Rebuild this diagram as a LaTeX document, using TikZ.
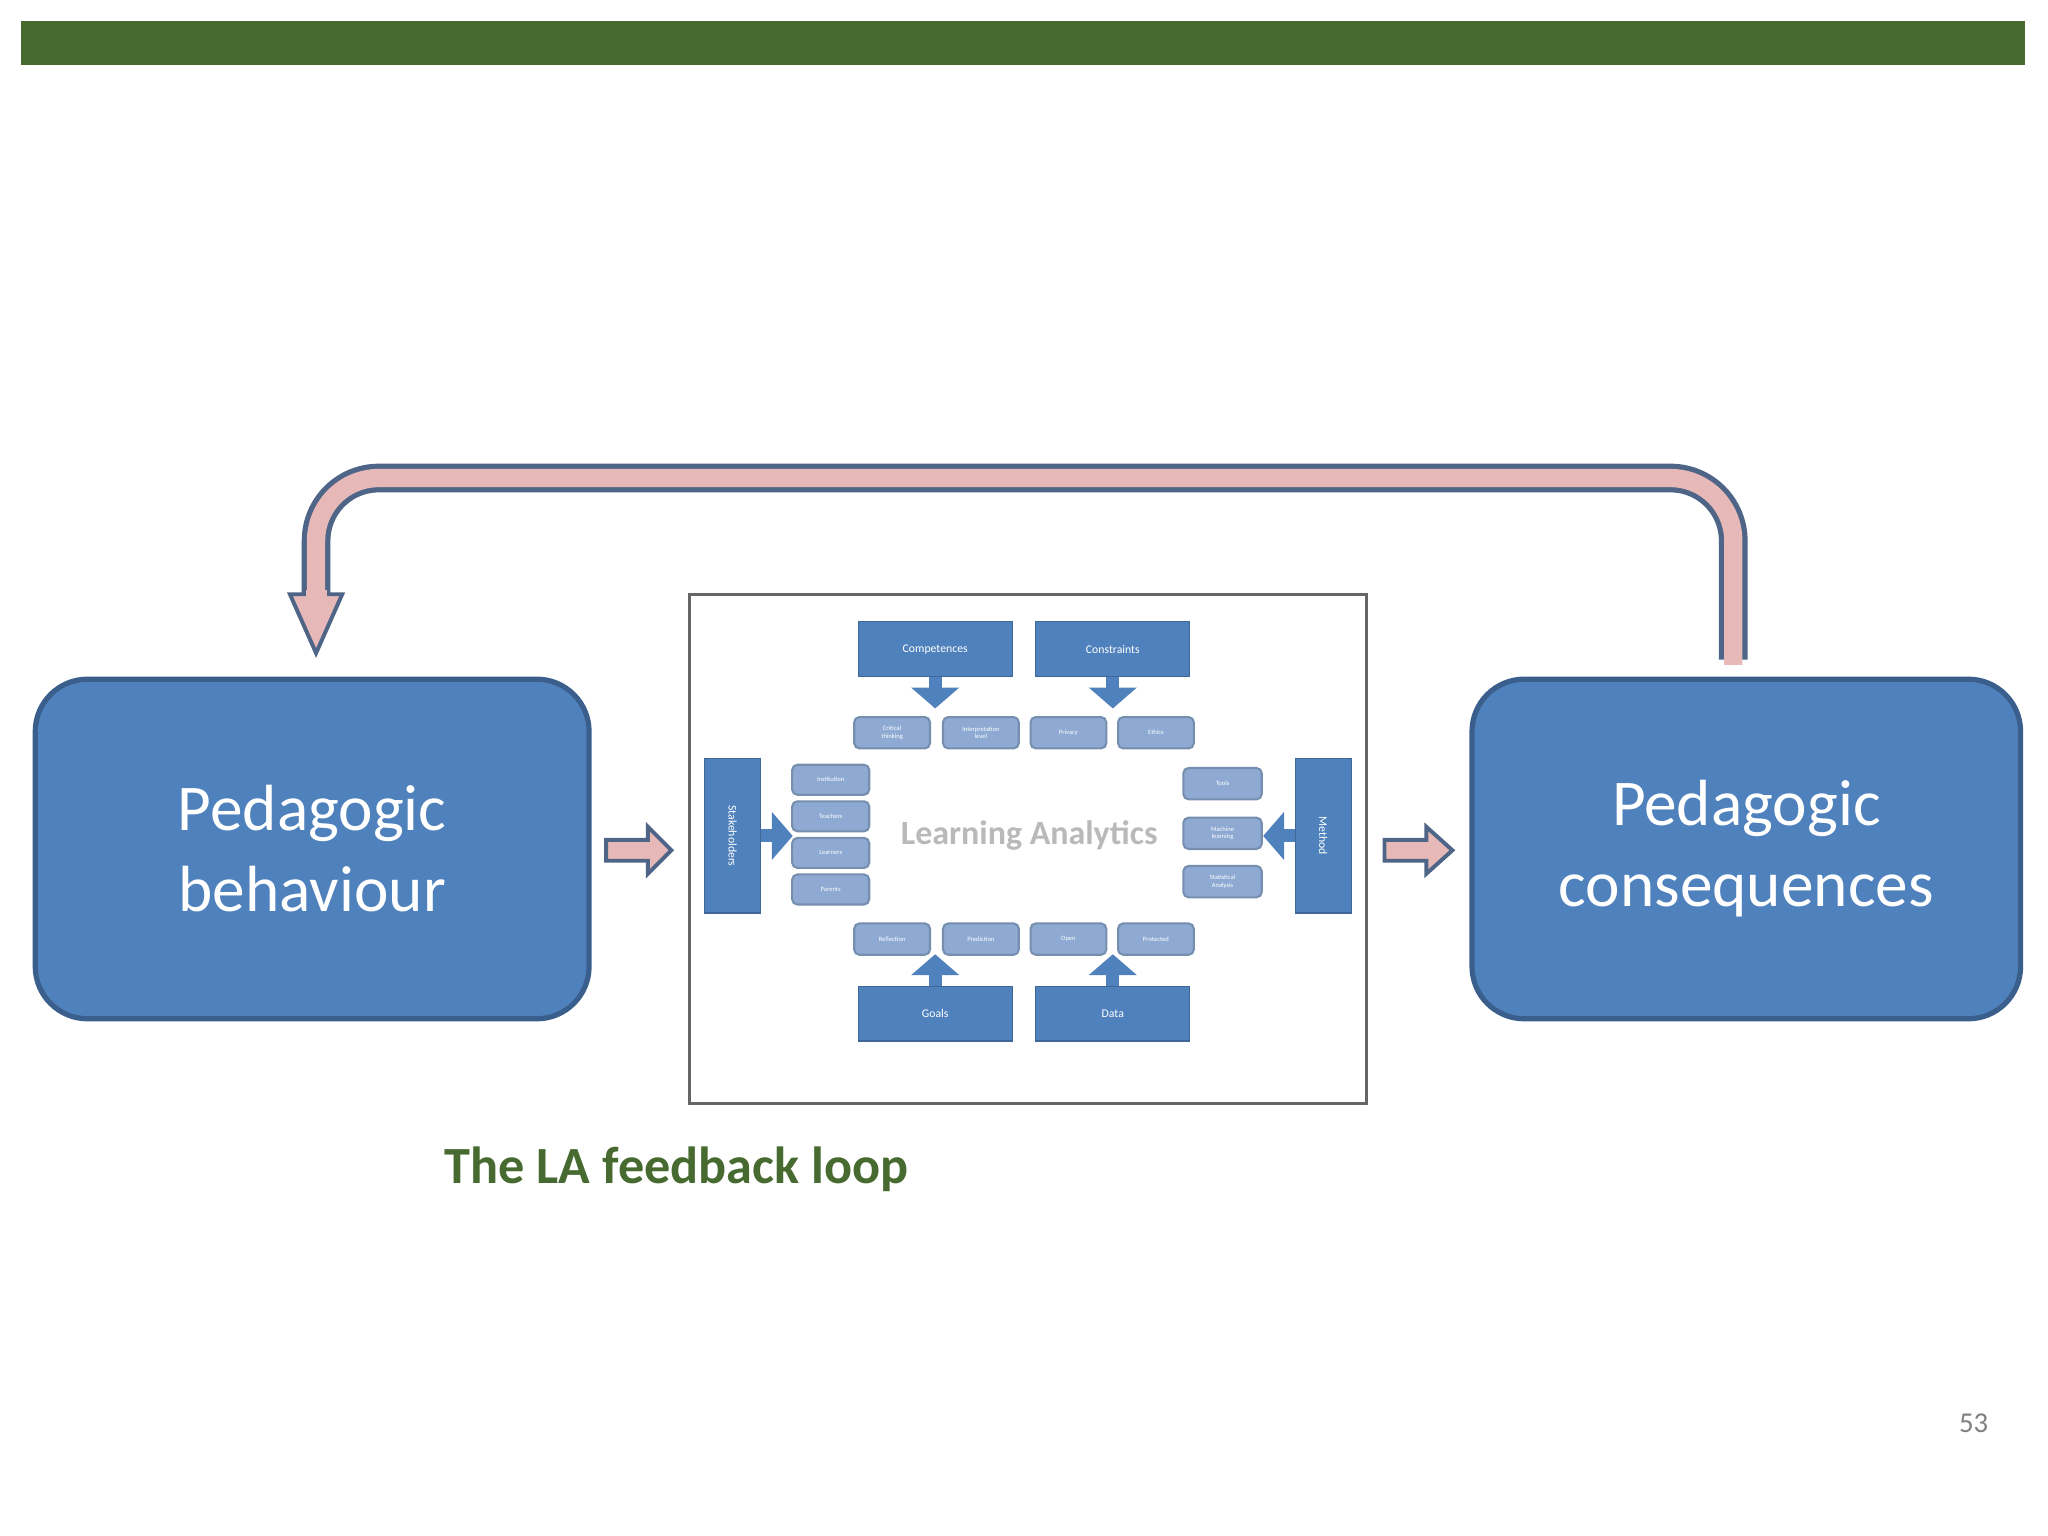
\documentclass[tikz,border=0pt]{standalone}
\usepackage{fontspec}
\setmainfont{Carlito}
\usetikzlibrary{arrows.meta}
\definecolor{bar}{HTML}{466A2F}
\definecolor{bb}{HTML}{4F81BD}
\definecolor{bd}{HTML}{3B5F8C}
\definecolor{sb}{HTML}{8EAAD3}
\definecolor{pk}{HTML}{E6B9B8}
\definecolor{ol}{HTML}{4E6587}
\begin{document}
\begin{tikzpicture}[x=0.5pt,y=-0.5pt,
 big/.style={draw=bd,line width=2pt,fill=bb,rounded corners=20pt,text=white,font=\fontsize{25}{31}\selectfont,align=center},
 head/.style={fill=bb,draw=bb!80!black,line width=0.4pt,text=white,font=\fontsize{4.5}{5}\selectfont},
 small/.style={fill=sb,draw=bd!70,line width=0.8pt,rounded corners=2pt,text=white,font=\fontsize{2.5}{3}\selectfont,align=center},
 barr/.style={bb,line width=5pt,-{Triangle[width=18pt,length=8pt]}},
 blk/.style={fill=pk,draw=ol,line width=1.5pt,line join=miter}]
\useasboundingbox (0,0) rectangle (1568,1176);
\fill[white] (0,0) rectangle (1568,1176);
\fill[bar] (16,16) rectangle (1550,50);
% big boxes
\node[big,minimum width=212pt,minimum height=130pt] (pb) at (239,650) {Pedagogic\\behaviour};
\node[big,minimum width=210pt,minimum height=130pt] (pc) at (1337,650) {Pedagogic\\consequences};
% frame
\node[draw=gray!80!black,line width=1.2pt,minimum width=259pt,minimum height=195pt,inner sep=0] (fr) at (787,650) {};
% loop arrow
\coordinate (ls) at (1327,505);
\coordinate (le) at (242,455);
\draw[ol,line width=11pt,rounded corners=24pt] (ls) -- (1327,366) -- (242,366) -- (le);
\draw[pk,line width=7pt,rounded corners=24pt] ([yshift=-2pt]ls) -- (1327,366) -- (242,366) -- ([yshift=-1pt]le);
\draw[blk] (222,455) -- (262,455) -- (242,500) -- cycle;
\fill[pk] (234,452) rectangle (250,458);
% side arrows
\draw[blk] (464,643) -- (496,643) -- (496,633) -- (514,651) -- (496,669) -- (496,659) -- (464,659) -- cycle;
\draw[blk] (1060,643) -- (1092,643) -- (1092,633) -- (1112,651) -- (1092,669) -- (1092,659) -- (1060,659) -- cycle;
% inner diagram
\node[head,minimum width=59pt,minimum height=21pt] (comp) at (716,497) {Competences};
\node[head,minimum width=59pt,minimum height=21pt] (cons) at (852,497) {Constraints};
\node[head,minimum width=59pt,minimum height=21pt] (goal) at (716,776) {Goals};
\node[head,minimum width=59pt,minimum height=21pt] (data) at (852,776) {Data};
\node[head,minimum width=21.5pt,minimum height=59pt] (stak) at (561,640) {\rotatebox{-90}{Stakeholders}};
\node[head,minimum width=21.5pt,minimum height=59pt] (meth) at (1013,640) {\rotatebox{-90}{Method}};
\foreach \n/\x/\t in {c1/683/Critical\\thinking,c2/751/Interpretation\\level,c3/818/Privacy,c4/885/Ethics}
  \node[small,minimum width=29pt,minimum height=12pt] (\n) at (\x,561) {\t};
\foreach \n/\x/\t in {g1/683/Reflection,g2/751/Prediction,g3/818/Open,g4/885/Protected}
  \node[small,minimum width=29pt,minimum height=12pt] (\n) at (\x,719) {\t};
\foreach \n/\y/\t in {s1/597/Institution,s2/625/Teachers,s3/653/Learners,s4/681/Parents}
  \node[small,minimum width=29.5pt,minimum height=11.5pt] (\n) at (636,\y) {\t};
\foreach \n/\y/\t in {m1/600/Tools,m2/638/Machine\\learning,m3/675/Statistical\\Analysis}
  \node[small,minimum width=30pt,minimum height=12pt] (\n) at (936,\y) {\t};
\draw[barr] (comp.south) -- ++(0,24);
\draw[barr] (cons.south) -- ++(0,24);
\draw[barr] (goal.north) -- ++(0,-24);
\draw[barr] (data.north) -- ++(0,-24);
\draw[barr] (stak.east) -- ++(24,0);
\draw[barr] (meth.west) -- ++(-24,0);
\node[font=\fontsize{13}{15}\selectfont\bfseries,text=gray!55] (lat) at (788,640) {Learning Analytics};
% title
\node[font=\fontsize{20}{24}\bfseries\selectfont,text=bar] (title) at (518,895) {The LA feedback loop};
\node[font=\fontsize{11}{13}\selectfont,text=gray] (pg) at (1511,1090) {53};
\end{tikzpicture}
\end{document}
